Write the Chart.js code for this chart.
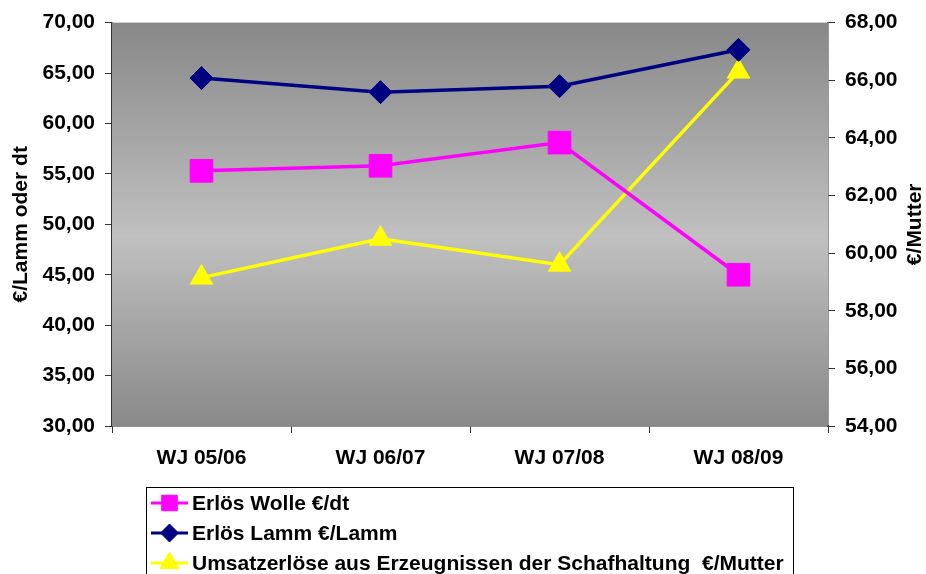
<!DOCTYPE html>
<html>
<head>
<meta charset="utf-8">
<script src="https://cdn.jsdelivr.net/npm/chart.js@4/dist/chart.umd.min.js"></script>
<style>
  html, body { margin: 0; padding: 0; background: #fff; }
  #wrap { width: 926px; height: 574px; }
</style>
</head>
<body>
<div id="wrap"><canvas id="grafico" width="926" height="574"></canvas></div>
<script>
// Daten aus dem Diagramm
const jahre = ['WJ 05/06', 'WJ 06/07', 'WJ 07/08', 'WJ 08/09'];
const erloesWolle = [55.3, 55.8, 58.1, 45.0];
const erloesLamm = [64.5, 63.1, 63.7, 67.3];
const umsatzMutter = [59.15, 60.5, 59.6, 66.3];

const ticksLinks = { min: 30, max: 70, step: 5 };
const ticksRechts = { min: 54, max: 68, step: 2 };

const schrift = 'Liberation Sans, Arial, sans-serif';
const zahl = v => Number(v).toFixed(2).replace('.', ',');

// Hintergrund mit Verlauf + Achsentitel + Legende mit Rahmen
const zeichnen = {
    id: 'zeichnen',
    beforeDatasetsDraw(chart) {
        const { ctx, chartArea: a } = chart;
        const g = ctx.createLinearGradient(0, a.top, 0, a.bottom);
        g.addColorStop(0, '#888888');
        g.addColorStop(0.53, '#c0c0c0');
        g.addColorStop(1, '#898989');
        ctx.save();
        ctx.fillStyle = g;
        ctx.fillRect(a.left, a.top, a.right - a.left, a.bottom - a.top);
        ctx.restore();
    },
    afterDraw(chart) {
        const { ctx, chartArea: a } = chart;
        const mitte = (a.top + a.bottom) / 2;
        ctx.save();
        ctx.fillStyle = '#000';
        ctx.font = 'bold 21px ' + schrift;
        ctx.textAlign = 'center';
        ctx.textBaseline = 'middle';
        [[21, '€/Lamm oder dt'], [915, '€/Mutter']].forEach(([x, t]) => {
            ctx.save();
            ctx.translate(x, mitte);
            ctx.rotate(-Math.PI / 2);
            ctx.fillText(t, 0, 0);
            ctx.restore();
        });

        // Legende
        ctx.strokeStyle = '#000';
        ctx.lineWidth = 1;
        ctx.strokeRect(146.5, 487.5, 647, 120);
        const zeilen = [503, 533, 563];
        const groessen = [11, 9, 11];
        chart.data.datasets.forEach((ds, i) => {
            const y = zeilen[i];
            ctx.strokeStyle = ds.borderColor;
            ctx.lineWidth = 3;
            ctx.beginPath();
            ctx.moveTo(151, y);
            ctx.lineTo(188, y);
            ctx.stroke();
            ctx.save();
            ctx.fillStyle = ds.backgroundColor;
            ctx.strokeStyle = ds.borderColor;
            ctx.lineWidth = 1;
            Chart.helpers.drawPoint(ctx, { pointStyle: ds.pointStyle, radius: groessen[i], rotation: 0, borderWidth: 1 }, 169.5, y);
            ctx.restore();
            ctx.fillStyle = '#000';
            ctx.font = 'bold 21px ' + schrift;
            ctx.textAlign = 'left';
            ctx.fillText(ds.label, 192, y + 1);
        });
        ctx.restore();
    }
};

const ctx = document.getElementById('grafico').getContext('2d');
new Chart(ctx, {
    type: 'line',
    data: {
        labels: jahre,
        datasets: [{
            label: 'Erlös Wolle €/dt',
            data: erloesWolle,
            yAxisID: 'y',
            borderColor: '#ff00ff',
            backgroundColor: '#ff00ff',
            borderWidth: 3.5,
            pointStyle: 'rect',
            pointRadius: 16,
            pointBorderWidth: 1
        }, {
            label: 'Erlös Lamm €/Lamm',
            data: erloesLamm,
            yAxisID: 'y',
            borderColor: '#000080',
            backgroundColor: '#000080',
            borderWidth: 3.5,
            pointStyle: 'rectRot',
            pointRadius: 11.5,
            pointBorderWidth: 1
        }, {
            label: 'Umsatzerlöse aus Erzeugnissen der Schafhaltung  €/Mutter',
            data: umsatzMutter,
            yAxisID: 'y1',
            borderColor: '#ffff00',
            backgroundColor: '#ffff00',
            borderWidth: 3.5,
            pointStyle: 'triangle',
            pointRadius: 13,
            pointBorderWidth: 1
        }]
    },
    options: {
        responsive: false,
        animation: false,
        layout: { padding: { top: 20, left: 0, right: 0, bottom: 0 } },
        plugins: {
            legend: { display: false },
            tooltip: { enabled: false }
        },
        scales: {
            x: {
                offset: true,
                grid: { offset: true, drawOnChartArea: false, tickLength: 7, color: '#333' },
                border: { color: '#222', width: 1.5 },
                ticks: { color: '#000', font: { family: schrift, size: 21, weight: 'bold' }, padding: 13, maxRotation: 0 },
                afterFit: s => { s.height = 148; }
            },
            y: {
                position: 'left',
                min: ticksLinks.min,
                max: ticksLinks.max,
                grid: { drawOnChartArea: false, tickLength: 7, color: '#333' },
                border: { color: '#333', width: 1.5 },
                ticks: { stepSize: ticksLinks.step, color: '#000', font: { family: schrift, size: 21, weight: 'bold' }, padding: 10, callback: zahl },
                afterFit: s => { s.width = 112; }
            },
            y1: {
                position: 'right',
                min: ticksRechts.min,
                max: ticksRechts.max,
                grid: { drawOnChartArea: false, tickLength: 7, color: '#333' },
                border: { color: '#333', width: 1.5 },
                ticks: { stepSize: ticksRechts.step, color: '#000', font: { family: schrift, size: 21, weight: 'bold' }, padding: 10, callback: zahl },
                afterFit: s => { s.width = 98; }
            }
        }
    },
    plugins: [zeichnen]
});
</script>
</body>
</html>
